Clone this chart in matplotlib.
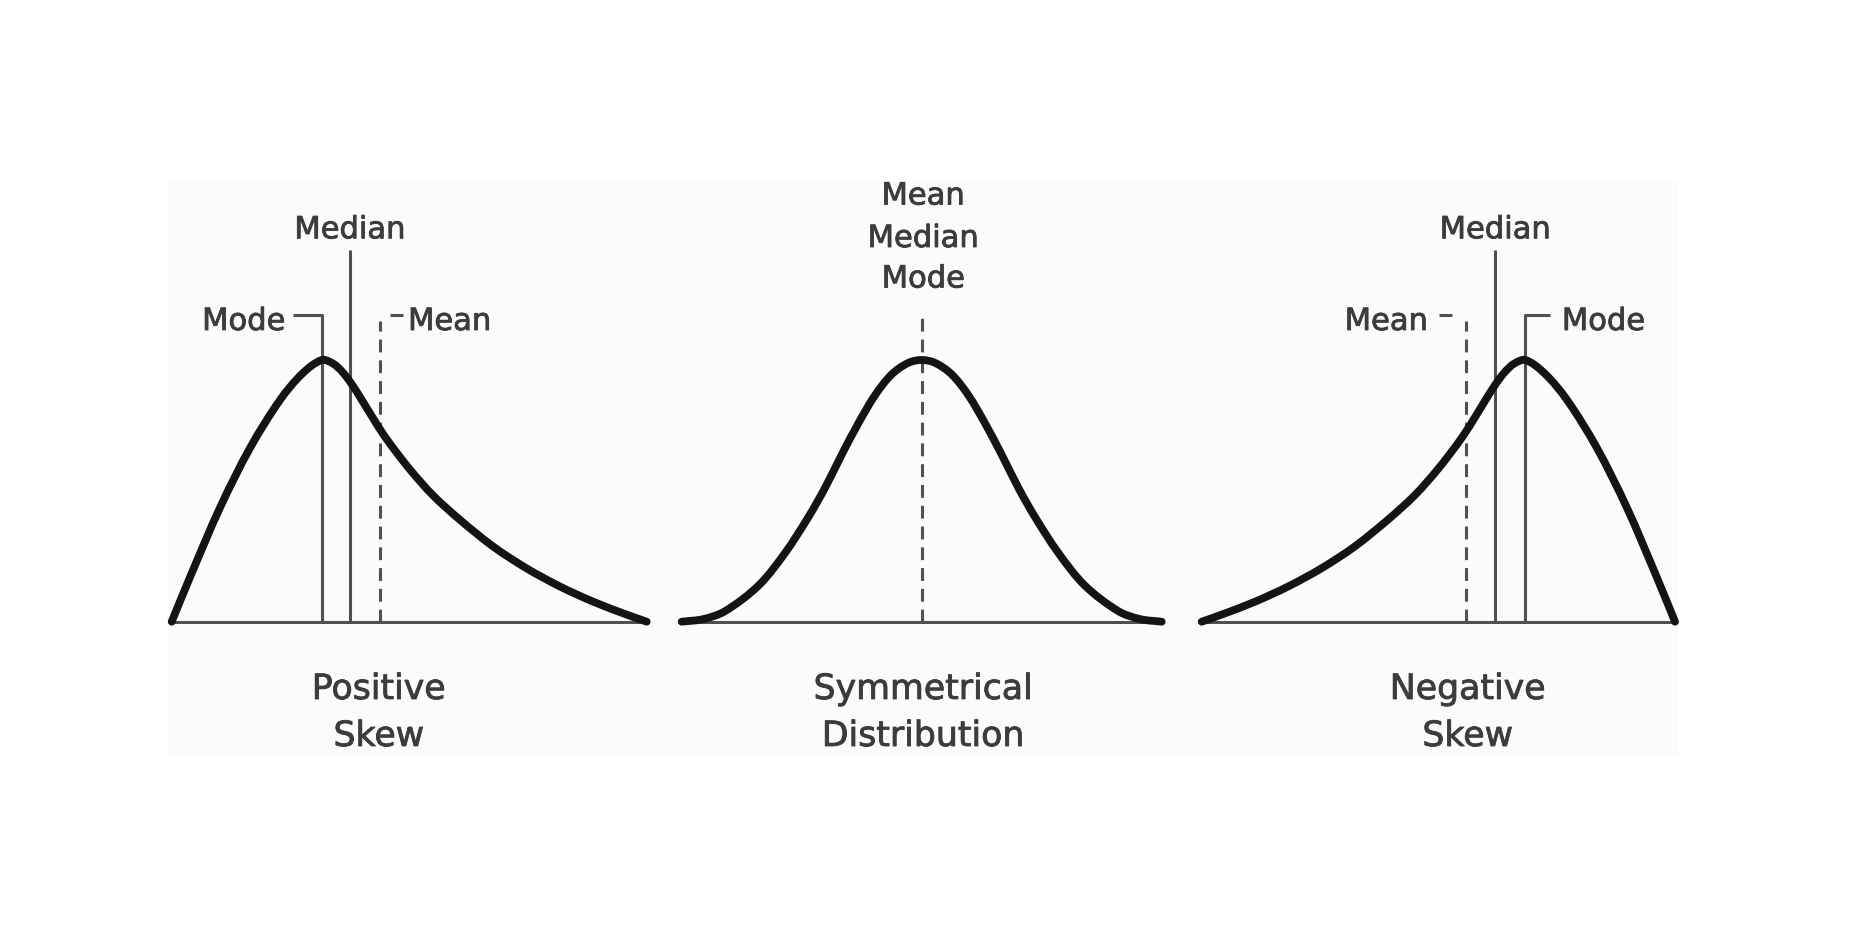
import numpy as np
import matplotlib
matplotlib.use("Agg")
import matplotlib.pyplot as plt
import matplotlib.patheffects as pe
from matplotlib.path import Path
from matplotlib.patches import PathPatch, Rectangle

# ---------------- data (normalised: x = 0..1 across curve, y = 0..1 up to peak) ----
left_x = [0, 0.0385, 0.102, 0.165, 0.228, 0.275, 0.316, 0.34, 0.36, 0.38, 0.40,
          0.42, 0.45, 0.50, 0.55, 0.607, 0.677, 0.747, 0.818, 0.888, 0.958, 1.0]
left_y = [0, 0.170, 0.437, 0.664, 0.847, 0.948, 1.0, 0.986, 0.953, 0.905, 0.848,
          0.789, 0.704, 0.585, 0.483, 0.389, 0.287, 0.204, 0.134, 0.076, 0.027, 0]

mid_x = [0, 0.045, 0.09, 0.16, 0.215, 0.264, 0.299, 0.333, 0.368, 0.403, 0.4375, 0.472, 0.5,
         0.528, 0.5625, 0.597, 0.632, 0.667, 0.701, 0.736, 0.785, 0.84, 0.91, 0.955, 1.0]
mid_y = [0, 0.010, 0.040, 0.138, 0.262, 0.400, 0.513, 0.637, 0.758, 0.866, 0.945, 0.989, 1.0,
         0.989, 0.945, 0.866, 0.758, 0.637, 0.513, 0.400, 0.262, 0.138, 0.040, 0.010, 0]

right_x = [0, 0.042, 0.112, 0.182, 0.253, 0.323, 0.393, 0.45, 0.50, 0.55, 0.58,
           0.60, 0.62, 0.64, 0.66, 0.684, 0.725, 0.772, 0.835, 0.898, 0.9615, 1.0]
right_y = [0, 0.027, 0.076, 0.134, 0.204, 0.287, 0.389, 0.483, 0.585, 0.704, 0.789,
           0.848, 0.905, 0.953, 0.986, 1.0, 0.948, 0.847, 0.664, 0.437, 0.170, 0]

left_mode, left_median, left_mean = 0.316, 0.375, 0.4385
mid_centre = 0.5
right_mean, right_median, right_mode = 0.558, 0.620, 0.684

titles = [["Positive", "Skew"], ["Symmetrical", "Distribution"], ["Negative", "Skew"]]
mid_labels = ["Mean", "Median", "Mode"]

# ---------------- styling ----------------
W, H, DPI = 1869, 946, 100
CURVE = "#141414"
LINE = "#505050"
TEXT = "#3c3c3c"
SMALL = 22
BIG = 25
plt.rcParams["font.family"] = ["DejaVu Sans"]

fig = plt.figure(figsize=(W / DPI, H / DPI), dpi=DPI)
fig.patch.set_facecolor("white")
bg = Rectangle((167 / W, (H - 755) / H), (1678 - 167) / W, (755 - 182) / H,
               transform=fig.transFigure, fc="#fbfbfb", ec="none", zorder=-10)
fig.add_artist(bg)

BASE_Y = 621.7
PEAK_H = 261.7


def make_ax(x0, x1):
    ax = fig.add_axes([x0 / W, (H - BASE_Y) / H, (x1 - x0) / W, PEAK_H / H])
    ax.set_xlim(0, 1)
    ax.set_ylim(0, 1)
    ax.axis("off")
    ax.set_zorder(5)
    ax.px_w = x1 - x0
    return ax


def smooth_path(xs, ys, px_w):
    # chord-length Catmull-Rom, rendered by matplotlib as cubic Bezier segments
    P = np.column_stack([xs, ys]).astype(float)
    S = P * np.array([px_w, PEAK_H])
    t = np.concatenate([[0], np.cumsum(np.hypot(*np.diff(S, axis=0).T))])
    n = len(P)
    m = np.zeros_like(P)
    for i in range(n):
        a = max(i - 1, 0)
        b = min(i + 1, n - 1)
        m[i] = (P[b] - P[a]) / (t[b] - t[a])
    verts = [P[0]]
    codes = [Path.MOVETO]
    for i in range(n - 1):
        dt = t[i + 1] - t[i]
        verts += [P[i] + m[i] * dt / 3, P[i + 1] - m[i + 1] * dt / 3, P[i + 1]]
        codes += [Path.CURVE4] * 3
    return Path(verts, codes)


def draw_curve(ax, xs, ys):
    ax.axhline(0, xmin=0, xmax=1, color=LINE, lw=2.2, zorder=2, clip_on=False)
    ax.add_patch(PathPatch(smooth_path(xs, ys, ax.px_w), fill=False, ec=CURVE, lw=5.6,
                           capstyle="round", joinstyle="round", zorder=5, clip_on=False))


def dashed(ax, x, top):
    ax.plot([x, x], [0, top], color=LINE, lw=2.2, dashes=(4.2, 2.6), zorder=3,
            clip_on=False, solid_capstyle="butt", dash_capstyle="butt")


def solid(ax, xs, ys):
    ax.plot(xs, ys, color=LINE, lw=2.2, zorder=3, clip_on=False, solid_capstyle="butt")


STROKE = [pe.withStroke(linewidth=0.6, foreground=TEXT)]


def txt(ax, x, y, s, ha="center", size=SMALL):
    ax.text(x, y, s, ha=ha, va="baseline", fontsize=size, color=TEXT, clip_on=False,
            path_effects=STROKE)


def y_of(px):
    return (BASE_Y - px) / PEAK_H


TICK_Y = y_of(315)
LBL_Y = y_of(330)
MED_TOP = y_of(250)
MED_LBL = y_of(238.3)
DASH_TOP = y_of(321)

# ---------------- left: positive skew ----------------
axL = make_ax(171.7, 646.7)
draw_curve(axL, left_x, left_y)
solid(axL, [0.255, left_mode, left_mode], [TICK_Y, TICK_Y, 0])
solid(axL, [left_median, left_median], [0, MED_TOP])
dashed(axL, left_mean, DASH_TOP)
solid(axL, [0.460, 0.487], [TICK_Y, TICK_Y])
txt(axL, 0.2385, LBL_Y, "Mode", ha="right")
txt(axL, left_median, MED_LBL, "Median")
txt(axL, 0.4975, LBL_Y, "Mean", ha="left")
txt(axL, 0.436, y_of(699), titles[0][0], size=BIG)
txt(axL, 0.436, y_of(746), titles[0][1], size=BIG)

# ---------------- middle: symmetrical ----------------
axM = make_ax(681.7, 1161.7)
draw_curve(axM, mid_x, mid_y)
dashed(axM, mid_centre, y_of(316))
for lab, py in zip(mid_labels, [204.5, 247, 287.5]):
    txt(axM, mid_centre + 0.003, y_of(py), lab)
txt(axM, 0.503, y_of(699), titles[1][0], size=BIG)
txt(axM, 0.503, y_of(746), titles[1][1], size=BIG)

# ---------------- right: negative skew ----------------
axR = make_ax(1201.7, 1675.0)
draw_curve(axR, right_x, right_y)
dashed(axR, right_mean, DASH_TOP)
solid(axR, [0.502, 0.529], [TICK_Y, TICK_Y])
solid(axR, [right_median, right_median], [0, MED_TOP])
solid(axR, [0.735, right_mode, right_mode], [TICK_Y, TICK_Y, 0])
txt(axR, 0.478, LBL_Y, "Mean", ha="right")
txt(axR, right_median, MED_LBL, "Median")
txt(axR, 0.761, LBL_Y, "Mode", ha="left")
txt(axR, 0.562, y_of(699), titles[2][0], size=BIG)
txt(axR, 0.562, y_of(746), titles[2][1], size=BIG)

fig.savefig("out.png", dpi=DPI, facecolor="white")
